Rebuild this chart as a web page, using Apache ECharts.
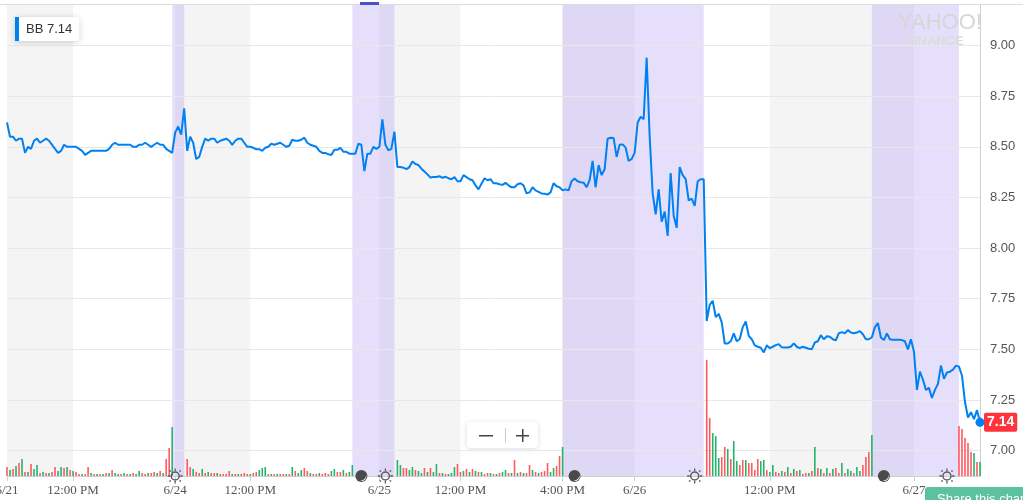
<!DOCTYPE html>
<html>
<head>
<meta charset="utf-8">
<title>BB 5D</title>
<script src="https://cdn.jsdelivr.net/npm/echarts/dist/echarts.min.js"></script>
<style>
  html, body { margin: 0; padding: 0; background: #fff; }
  #chart { width: 1023px; height: 500px; }
</style>
</head>
<body>
<div id="chart"></div>
<script>
// price samples, one every ~3px of the original 5 day chart (6/21 - 6/27)
var prices = [
  8.62, 8.55, 8.55, 8.53, 8.54, 8.54, 8.47, 8.50, 8.49, 8.53,
  8.54, 8.52, 8.53, 8.54, 8.53, 8.51, 8.49, 8.47, 8.48, 8.51,
  8.50, 8.50, 8.50, 8.50, 8.49, 8.48, 8.46, 8.47, 8.48, 8.48,
  8.48, 8.48, 8.48, 8.48, 8.49, 8.51, 8.52, 8.51, 8.51, 8.51,
  8.51, 8.51, 8.50, 8.50, 8.51, 8.51, 8.52, 8.51, 8.50, 8.51,
  8.52, 8.51, 8.51, 8.49, 8.48, 8.47, 8.57, 8.60, 8.56, 8.69,
  8.48, 8.55, 8.52, 8.44, 8.45, 8.50, 8.54, 8.53, 8.54, 8.54,
  8.52, 8.53, 8.535, 8.54, 8.53, 8.51, 8.53, 8.54, 8.54, 8.52,
  8.50, 8.50, 8.495, 8.488, 8.488, 8.48, 8.495, 8.50, 8.515, 8.51,
  8.515, 8.52, 8.51, 8.50, 8.505, 8.535, 8.53, 8.53, 8.535, 8.545,
  8.52, 8.51, 8.505, 8.50, 8.48, 8.47, 8.47, 8.463, 8.46, 8.485,
  8.485, 8.495, 8.476, 8.475, 8.466, 8.466, 8.466, 8.515, 8.51, 8.38,
  8.466, 8.466, 8.50, 8.49, 8.50, 8.635, 8.51, 8.483, 8.49, 8.575,
  8.40, 8.40, 8.397, 8.39, 8.40, 8.427, 8.415, 8.41, 8.392, 8.378,
  8.364, 8.348, 8.351, 8.351, 8.355, 8.347, 8.352, 8.345, 8.34, 8.35,
  8.33, 8.33, 8.36, 8.35, 8.34, 8.335, 8.31, 8.29, 8.318, 8.345,
  8.335, 8.34, 8.32, 8.32, 8.315, 8.312, 8.322, 8.31, 8.30, 8.30,
  8.315, 8.32, 8.31, 8.27, 8.275, 8.30, 8.285, 8.278, 8.27, 8.268,
  8.264, 8.275, 8.32, 8.305, 8.30, 8.285, 8.29, 8.285, 8.33, 8.343,
  8.33, 8.325, 8.323, 8.30, 8.335, 8.43, 8.30, 8.41, 8.36, 8.389,
  8.54, 8.545, 8.543, 8.45, 8.51, 8.512, 8.496, 8.43, 8.44, 8.47,
  8.62, 8.648, 8.636, 8.94, 8.55, 8.27, 8.167, 8.29, 8.13, 8.18,
  8.06, 8.37, 8.16, 8.10, 8.40, 8.36, 8.34, 8.235, 8.244, 8.208,
  8.33, 8.34, 8.34, 7.64, 7.72, 7.74, 7.66, 7.675, 7.633, 7.529,
  7.529, 7.54, 7.579, 7.54, 7.551, 7.61, 7.638, 7.567, 7.55, 7.52,
  7.513, 7.508, 7.485, 7.52, 7.506, 7.513, 7.521, 7.526, 7.51, 7.509,
  7.509, 7.513, 7.53, 7.513, 7.506, 7.513, 7.508, 7.503, 7.501, 7.534,
  7.54, 7.57, 7.55, 7.565, 7.562, 7.55, 7.545, 7.58, 7.585, 7.579,
  7.595, 7.583, 7.58, 7.583, 7.59, 7.575, 7.55, 7.55, 7.56, 7.61,
  7.63, 7.559, 7.546, 7.579, 7.55, 7.547, 7.547, 7.547, 7.546, 7.54,
  7.50, 7.55, 7.49, 7.30, 7.39, 7.35, 7.30, 7.31, 7.26, 7.30,
  7.33, 7.42, 7.355, 7.386, 7.39, 7.40, 7.42, 7.415, 7.37, 7.24,
  7.164, 7.19, 7.156, 7.20, 7.14
]
// volume (rough units), 0 during extended hours
var volume = [
  9, 6, 7, 10, 13, 17, 4, 4, 12, 7,
  11, 3, 4, 3, 3, 4, 9, 5, 9, 8,
  9, 6, 5, 4, 2, 2, 2, 9, 3, 2,
  2, 2, 2, 3, 3, 6, 3, 2, 2, 3,
  2, 2, 3, 2, 5, 3, 2, 3, 3, 4,
  3, 5, 3, 17, 28, 49, 0, 0, 0, 0,
  17, 9, 7, 4, 3, 7, 3, 4, 3, 3,
  3, 2, 2, 2, 5, 2, 2, 2, 2, 3,
  2, 2, 3, 4, 6, 8, 9, 2, 2, 2,
  2, 2, 2, 2, 2, 9, 5, 3, 6, 8,
  5, 3, 2, 2, 3, 2, 3, 2, 5, 7,
  4, 4, 6, 3, 4, 11, 0, 0, 0, 0,
  0, 0, 0, 0, 0, 0, 0, 0, 0, 0,
  16, 11, 8, 8, 6, 9, 6, 5, 3, 8,
  4, 8, 4, 12, 3, 3, 2, 2, 3, 9,
  12, 4, 5, 7, 4, 7, 5, 4, 4, 2,
  3, 3, 2, 2, 3, 4, 6, 3, 3, 16,
  3, 4, 3, 3, 11, 6, 4, 3, 4, 5,
  13, 4, 8, 10, 20, 29, 0, 0, 0, 0,
  0, 0, 0, 0, 0, 0, 0, 0, 0, 0,
  0, 0, 0, 0, 0, 0, 0, 0, 0, 0,
  0, 0, 0, 0, 0, 0, 0, 0, 0, 0,
  0, 0, 0, 0, 0, 0, 0, 0, 0, 0,
  0, 0, 0, 116, 58, 43, 40, 18, 19, 29,
  27, 17, 35, 15, 11, 16, 16, 13, 13, 6,
  17, 15, 16, 6, 4, 11, 4, 3, 5, 4,
  9, 3, 7, 5, 6, 2, 3, 3, 5, 29,
  8, 7, 3, 8, 3, 7, 8, 3, 13, 3,
  7, 5, 3, 9, 5, 11, 19, 24, 41, 0,
  0, 0, 0, 0, 0, 0, 0, 0, 0, 0,
  0, 0, 0, 0, 0, 0, 0, 0, 0, 0,
  0, 0, 0, 0, 0, 0, 0, 50, 47, 38,
  33, 24, 23, 14, 14
]
// 1 = up bar (green), 0 = down bar (red)
var volumeUp = [
  0, 1, 0, 1, 0, 1, 0, 1, 0, 1,
  1, 0, 1, 0, 1, 0, 0, 1, 1, 0,
  1, 0, 1, 0, 0, 1, 0, 0, 1, 0,
  1, 0, 1, 0, 1, 0, 1, 1, 0, 1,
  0, 1, 0, 1, 1, 0, 0, 1, 0, 0,
  1, 0, 1, 0, 0, 1, 0, 0, 0, 0,
  0, 0, 1, 0, 0, 1, 0, 1, 0, 0,
  1, 0, 0, 0, 0, 1, 0, 1, 0, 0,
  0, 1, 0, 0, 1, 1, 1, 0, 1, 0,
  1, 0, 0, 1, 0, 1, 0, 1, 1, 0,
  0, 1, 0, 0, 1, 0, 0, 0, 1, 1,
  0, 0, 1, 0, 1, 1, 0, 0, 0, 0,
  0, 0, 0, 0, 0, 0, 0, 0, 0, 0,
  1, 1, 0, 0, 1, 1, 0, 1, 1, 0,
  1, 0, 1, 1, 0, 1, 0, 1, 1, 1,
  0, 0, 1, 0, 1, 0, 1, 0, 1, 0,
  0, 1, 0, 1, 0, 1, 1, 0, 1, 0,
  1, 0, 1, 0, 0, 1, 0, 1, 0, 0,
  0, 1, 1, 0, 0, 1, 0, 0, 0, 0,
  0, 0, 0, 0, 0, 0, 0, 0, 0, 0,
  0, 0, 0, 0, 0, 0, 0, 0, 0, 0,
  0, 0, 0, 0, 0, 0, 0, 0, 0, 0,
  0, 0, 0, 0, 0, 0, 0, 0, 0, 0,
  0, 0, 0, 0, 0, 1, 1, 1, 0, 0,
  1, 0, 1, 1, 0, 0, 1, 0, 0, 0,
  0, 1, 1, 0, 1, 1, 0, 0, 1, 0,
  1, 0, 1, 0, 1, 0, 0, 1, 0, 1,
  0, 1, 0, 1, 0, 1, 0, 0, 1, 0,
  1, 1, 0, 1, 1, 0, 0, 0, 1, 0,
  0, 0, 0, 0, 0, 0, 0, 0, 0, 0,
  0, 0, 0, 0, 0, 0, 0, 0, 0, 0,
  0, 0, 0, 0, 0, 0, 0, 0, 0, 0,
  0, 0, 1, 0, 1
]
// x axis ticks (sample index -> label)
var tickIdx = [0, 22, 56, 81, 124, 151, 185, 209, 254, 302]
var tickText = ['6/21', '12:00 PM', '6/24', '12:00 PM', '6/25', '12:00 PM', '4:00 PM', '6/26', '12:00 PM', '6/27']
var priceTicks = [7.00, 7.25, 7.50, 7.75, 8.00, 8.25, 8.50, 8.75, 9.00]
// pre/post market stretches (sample index ranges)
var extHours = [[55, 59], [115, 129], [185, 232], [288, 317]]
var sunIdx = [56, 126, 229, 313]
var moonIdx = [118, 189, 292]

;(function () {
  var myChart = echarts.init(document.getElementById('chart'))
  var blue = '#0081f2'
  var yMin = 6.875
  var last = prices[prices.length - 1]
  // little sun rays drawn round the ring
  var raysPath = 'path://M0,7.3h2.6v1.4h-2.6Z M13.4,7.3h2.6v1.4h-2.6Z M7.3,0h1.4v2.6h-1.4Z M7.3,13.4h1.4v2.6h-1.4Z' +
    ' M1.8,1.8h1.7v1.7h-1.7Z M12.5,1.8h1.7v1.7h-1.7Z M1.8,12.5h1.7v1.7h-1.7Z M12.5,12.5h1.7v1.7h-1.7Z'

  var cats = prices.map(function (p, i) {
    var k = tickIdx.indexOf(i)
    return k > -1 ? tickText[k] : ''
  })
  var isTick = function (index) {
    return tickIdx.indexOf(index) > -1
  }

  var volData = volume.map(function (v, i) {
    return { value: v, itemStyle: { color: volumeUp[i] ? '#23b36d' : '#ff5a5e' } }
  })

  // sun / moon markers along the time axis
  var icons = []
  sunIdx.forEach(function (i) {
    icons.push({
      coord: [i, yMin],
      symbol: 'circle',
      symbolSize: 8,
      itemStyle: { color: 'rgba(255,255,255,0)', borderColor: '#5c5c5c', borderWidth: 1.5 }
    })
    icons.push({
      coord: [i, yMin],
      symbol: raysPath,
      symbolSize: 15,
      itemStyle: { color: '#5c5c5c' }
    })
  })
  moonIdx.forEach(function (i) {
    icons.push({
      coord: [i, yMin],
      symbol: 'circle',
      symbolSize: 12,
      itemStyle: { color: '#4a4a4a' }
    })
    icons.push({
      coord: [i, yMin],
      symbol: 'path://M10,2 A8,8 0 0 1 2,10 A6.5,6.5 0 0 0 10,2 Z',
      symbolSize: [6, 6],
      symbolOffset: [2, 2],
      itemStyle: { color: '#fff' }
    })
  })
  icons.push({
    coord: [prices.length - 1, last],
    symbol: 'circle',
    symbolSize: 9,
    itemStyle: { color: blue }
  })

  var option = {
    animation: false,
    textStyle: { fontFamily: 'Liberation Sans, Arial, sans-serif' },
    grid: {
      left: 7,
      right: 43,
      top: 5,
      bottom: 24,
      containLabel: false,
      outerBoundsMode: 'none'
    },
    legend: {
      data: ['BB'],
      left: 15,
      top: 17,
      icon: 'rect',
      itemWidth: 4,
      itemHeight: 24,
      padding: [0, 7, 0, 0],
      backgroundColor: '#fff',
      borderRadius: 3,
      shadowBlur: 6,
      shadowColor: 'rgba(0,0,0,0.18)',
      shadowOffsetY: 1,
      formatter: function (name) {
        return name + ' ' + last.toFixed(2)
      },
      textStyle: { color: '#333', fontSize: 13, padding: [0, 0, 0, 2] }
    },
    xAxis: {
      type: 'category',
      data: cats,
      boundaryGap: false,
      axisLine: { lineStyle: { color: '#cfcfcf' } },
      axisTick: { interval: isTick, length: 5, lineStyle: { color: '#cfcfcf' } },
      axisLabel: {
        interval: isTick,
        margin: 8,
        color: '#555',
        fontSize: 13,
        fontFamily: 'Liberation Serif, serif'
      },
      splitLine: { show: false },
      splitArea: {
        show: true,
        interval: isTick,
        areaStyle: { color: ['#f4f4f4', 'rgba(255,255,255,0)'] }
      }
    },
    yAxis: [
      {
        type: 'value',
        position: 'right',
        min: yMin,
        max: 9.2,
        interval: 0.125,
        axisLine: { show: true, lineStyle: { color: '#cfcfcf' } },
        axisTick: { show: false },
        splitLine: { show: false },
        axisLabel: {
          margin: 10,
          color: '#555',
          fontSize: 13,
          formatter: function (v) {
            var r = Math.round(v * 100) / 100
            return priceTicks.indexOf(r) > -1 ? r.toFixed(2) : ''
          }
        }
      },
      {
        type: 'value',
        min: 0,
        max: 471,
        show: false
      }
    ],
    series: [
      {
        name: 'Volume',
        type: 'bar',
        yAxisIndex: 1,
        barWidth: 1.6,
        data: volData
      },
      {
        name: 'BB',
        type: 'line',
        data: prices,
        showSymbol: false,
        symbol: 'none',
        lineStyle: { color: blue, width: 2 },
        itemStyle: { color: blue },
        markArea: {
          silent: true,
          z: 1,
          itemStyle: { color: 'rgba(190,176,244,0.4)' },
          data: extHours.map(function (r) {
            return [{ xAxis: r[0] }, { xAxis: r[1] }]
          })
        },
        markLine: {
          silent: true,
          z: 1,
          symbol: 'none',
          label: { show: false },
          lineStyle: { color: '#e8e8e8', width: 1, type: 'solid' },
          data: priceTicks.map(function (v) {
            return { yAxis: v }
          }).concat([{
            yAxis: last,
            lineStyle: { color: 'rgba(0,0,0,0)', width: 0 },
            label: {
              show: true,
              position: 'end',
              distance: 4,
              formatter: last.toFixed(2),
              backgroundColor: '#ff333a',
              color: '#fff',
              fontWeight: 'bold',
              fontSize: 14,
              padding: [3, 3, 2, 3],
              borderRadius: 2
            }
          }])
        },
        markPoint: {
          silent: true,
          label: { show: false },
          data: icons
        }
      }
    ],
    graphic: [
      // page top rule
      { type: 'rect', z: 100, shape: { x: 0, y: 4, width: 1023, height: 1 }, style: { fill: '#dcdcdc' } },
      { type: 'rect', z: 101, shape: { x: 360, y: 2, width: 19, height: 3 }, style: { fill: '#4b50c4' } },
      // watermark
      { type: 'text', z: 100, left: 898, top: 12, style: { text: 'YAHOO!', fill: '#d6d6d6', font: '22px "Liberation Sans"' } },
      { type: 'text', z: 100, left: 906, top: 35, style: { text: 'FINANCE', fill: '#dcdcdc', font: 'bold 13px "Liberation Sans"' } },
      // zoom control
      {
        type: 'group',
        left: 467,
        top: 422,
        z: 100,
        children: [
          { type: 'rect', shape: { x: 0, y: 0, width: 71, height: 26, r: 4 }, style: { fill: '#fff', shadowBlur: 5, shadowColor: 'rgba(0,0,0,0.15)', shadowOffsetY: 1 } },
          { type: 'rect', shape: { x: 12, y: 13, width: 14, height: 1.5 }, style: { fill: '#444' } },
          { type: 'rect', shape: { x: 38, y: 6, width: 1, height: 15 }, style: { fill: '#ccc' } },
          { type: 'rect', shape: { x: 49, y: 13, width: 13, height: 1.5 }, style: { fill: '#444' } },
          { type: 'rect', shape: { x: 55, y: 7, width: 1.5, height: 13 }, style: { fill: '#444' } }
        ]
      },
      // share button (cut off by the frame)
      {
        type: 'group',
        left: 925,
        top: 487,
        z: 100,
        children: [
          { type: 'rect', shape: { x: 0, y: 0, width: 100, height: 22, r: 3 }, style: { fill: '#5bc29d' } },
          { type: 'text', x: 12, y: 6, style: { text: 'Share this chart', fill: '#fff', font: '13px "Liberation Sans"' } }
        ]
      }
    ]
  }

  myChart.setOption(option)
  window.addEventListener('resize', function () {
    myChart.resize()
  })
})()
</script>
</body>
</html>
